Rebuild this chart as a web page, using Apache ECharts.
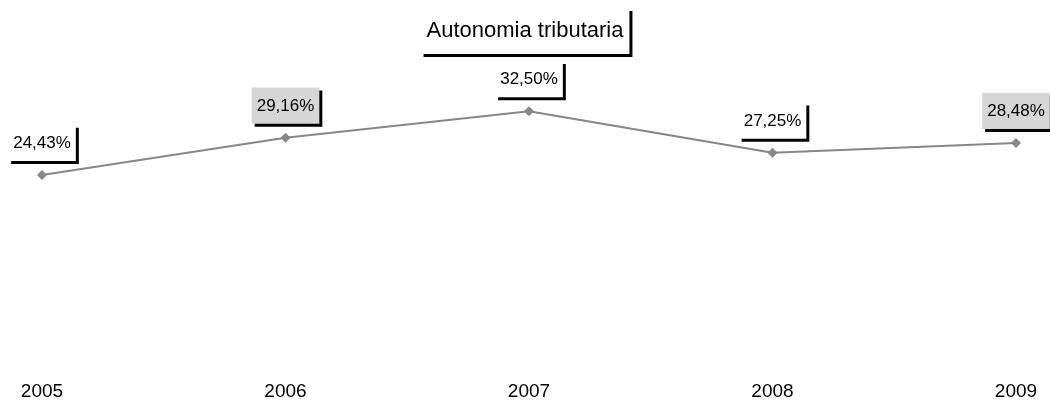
<!DOCTYPE html>
<html>
<head>
    <style>
        html, body { margin: 0; padding: 0; background: #fff; }
        #chart { width: 1050px; height: 408px; }
    </style>
    <script src="https://cdn.jsdelivr.net/npm/echarts@6/dist/echarts.min.js"></script>
</head>
<body>
    <div id="chart"></div>
    <script type="text/javascript">
        var years = ['2005', '2006', '2007', '2008', '2009'];
        var autonomia = [24.43, 29.16, 32.50, 27.25, 28.48];
        // quali etichette hanno lo sfondo grigio nel originale
        var grayLabels = [false, true, false, false, true];

        var font = 'Arial, "Liberation Sans", sans-serif';

        var points = autonomia.map(function (v, i) {
            return {
                value: v,
                label: { backgroundColor: grayLabels[i] ? '#d6d6d6' : '#ffffff' }
            };
        });

        var myChart = echarts.init(document.getElementById('chart'));
        myChart.setOption({
            animation: false,
            title: {
                text: 'Autonomia tributaria',
                left: 'center',
                top: 8,
                padding: [4, 6, 4, 6],
                backgroundColor: '#ffffff',
                shadowColor: '#000000',
                shadowOffsetX: 3,
                shadowOffsetY: 3,
                shadowBlur: 0,
                textStyle: { fontFamily: font, fontSize: 22, fontWeight: 'normal', color: '#000' }
            },
            grid: { left: 42, right: 34, top: 52, bottom: 31 },
            xAxis: {
                type: 'category',
                data: years,
                boundaryGap: false,
                axisLine: { show: false },
                axisTick: { show: false },
                axisLabel: { fontFamily: font, fontSize: 19, color: '#000', margin: 7 }
            },
            yAxis: {
                type: 'value',
                min: 0,
                max: 40,
                show: false,
                splitLine: { show: false }
            },
            series: [{
                type: 'line',
                data: points,
                symbol: 'diamond',
                symbolSize: 10,
                lineStyle: { color: '#878787', width: 2 },
                itemStyle: { color: '#878787' },
                label: {
                    show: true,
                    position: 'top',
                    distance: 9,
                    fontFamily: font,
                    fontSize: 17,
                    color: '#000',
                    padding: [4, 5, 3, 5],
                    shadowColor: '#000000',
                    shadowOffsetX: 3,
                    shadowOffsetY: 3,
                    shadowBlur: 0,
                    formatter: function (p) {
                        return p.value.toFixed(2).replace('.', ',') + '%';
                    }
                }
            }]
        });
    </script>
</body>
</html>
